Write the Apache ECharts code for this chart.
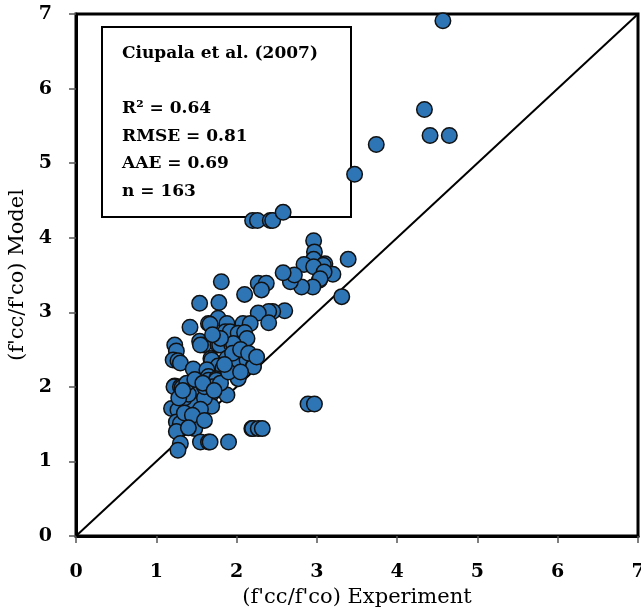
<!DOCTYPE html>
<html><head><meta charset="utf-8">
<script src="https://cdn.jsdelivr.net/npm/echarts@6/dist/echarts.min.js"></script>
<style>html,body{margin:0;padding:0;background:#fff}#c{width:641px;height:613px}</style>
</head><body><div id="c"></div>
<script>
var xTicks = [0,1,2,3,4,5,6,7];
var expVals = [4.57,4.34,4.41,4.65,3.74,3.47,
2.20,2.26,2.42,2.45,2.58,
2.96,2.97,2.96,2.84,3.10,3.08,2.96,3.39,3.20,3.09,3.03,3.04,2.95,2.81,2.67,2.72,2.58,3.31,
1.81,2.27,2.37,2.31,2.10,1.78,1.54,
2.60,2.45,2.40,2.27,2.40,2.08,2.17,1.77,1.65,1.67,1.88,1.42,1.86,1.92,2.02,2.10,2.13,
1.54,1.59,1.55,1.77,1.79,1.94,1.96,1.23,1.25,1.21,1.27,1.30,1.46,1.68,1.69,1.88,1.83,1.77,1.83,2.02,2.00,2.01,2.13,2.21,2.21,1.63,1.65,1.65,1.75,1.75,2.02,2.02,
1.23,1.22,1.30,1.32,1.46,1.52,1.54,1.52,1.69,1.88,1.45,1.69,1.19,1.27,1.52,1.50,1.40,1.25,1.30,1.49,1.48,1.25,1.30,1.27,1.55,1.65,1.67,1.90,2.19,2.20,2.27,2.32,2.89,2.97,
1.35,1.40,1.60,1.60,1.38,1.28,1.55,1.35,1.45,1.70,1.80,1.90,2.05,1.95,2.05,2.15,2.25,1.80,1.70,1.40,1.60,1.33,1.48,1.58,1.72,1.85];
var modelVals = [6.91,5.72,5.37,5.37,5.25,4.85,
4.23,4.23,4.23,4.23,4.34,
3.96,3.81,3.71,3.64,3.65,3.63,3.61,3.71,3.51,3.54,3.43,3.45,3.34,3.34,3.41,3.50,3.53,3.21,
3.41,3.39,3.39,3.30,3.24,3.13,3.12,
3.02,3.01,3.01,2.99,2.86,2.85,2.85,2.92,2.85,2.84,2.85,2.80,2.74,2.74,2.72,2.73,2.65,
2.61,2.56,2.56,2.56,2.56,2.56,2.58,2.56,2.48,2.36,2.35,2.32,2.24,2.38,2.36,2.38,2.28,2.28,2.25,2.36,2.34,2.32,2.36,2.28,2.27,2.23,2.14,2.09,2.11,2.09,2.13,2.11,
2.01,2.00,2.00,1.99,1.96,1.96,1.95,1.94,1.91,1.89,1.78,1.74,1.71,1.69,1.58,1.56,1.53,1.53,1.51,1.49,1.44,1.40,1.24,1.15,1.26,1.26,1.26,1.26,1.44,1.44,1.44,1.44,1.77,1.77,
1.85,1.90,1.85,2.00,2.05,1.85,1.70,1.65,1.62,2.00,2.05,2.20,2.20,2.45,2.50,2.45,2.40,2.65,2.70,1.45,1.55,1.95,2.10,2.05,1.95,2.30];
var refLine = [[0,0],[7,7]];
var statLines = ["Ciupala et al. (2007)", "", "R\u00b2 = 0.64", "RMSE = 0.81", "AAE = 0.69", "n = 163"];

var pts = expVals.map(function(x,i){return [x, modelVals[i]];});
var serif = "'DejaVu Serif', serif";
var chart = echarts.init(document.getElementById('c'));
function axisCommon(name, gap){
  return {
    type:'value', min:0, max:7, interval:1,
    name:name, nameLocation:'middle', nameGap:gap,
    nameTextStyle:{fontFamily:serif, fontSize:21, color:'#000'},
    axisLine:{show:true, lineStyle:{color:'#000', width:3}},
    axisTick:{show:true, inside:false, length:7, lineStyle:{color:'#555', width:1.5}},
    axisLabel:{fontFamily:serif, fontWeight:'bold', fontSize:19, color:'#000'},
    splitLine:{show:false}
  };
}
var xa = axisCommon("(f'cc/f'co) Experiment", 49); xa.axisLabel.margin = 27;
var ya = axisCommon("(f'cc/f'co) Model", 41); ya.axisLabel.margin = 24;
chart.setOption({
  animation:false,
  backgroundColor:'#fff',
  grid:{left:76, right:3, top:14, bottom:77, show:true, borderColor:'#000', borderWidth:3, outerBoundsMode:'none', containLabel:false},
  xAxis:xa, yAxis:ya,
  graphic:[
    {type:'rect', z:0, shape:{x:102, y:27, width:249, height:190}, style:{fill:'none', stroke:'#000', lineWidth:2}},
    {type:'text', z:0, left:122, top:40, style:{text:statLines.join('\n'), fontFamily:serif, fontWeight:'bold', fontSize:17, lineHeight:27.5, fill:'#000'}}
  ],
  series:[
    {type:'line', data:refLine, symbol:'none', lineStyle:{color:'#000', width:2}, z:1, silent:true},
    {type:'scatter', data:pts, symbol:'circle', symbolSize:15.5, z:3,
     itemStyle:{color:'#2E75B6', borderColor:'#111', borderWidth:1.5, opacity:1}}
  ]
});
</script></body></html>
